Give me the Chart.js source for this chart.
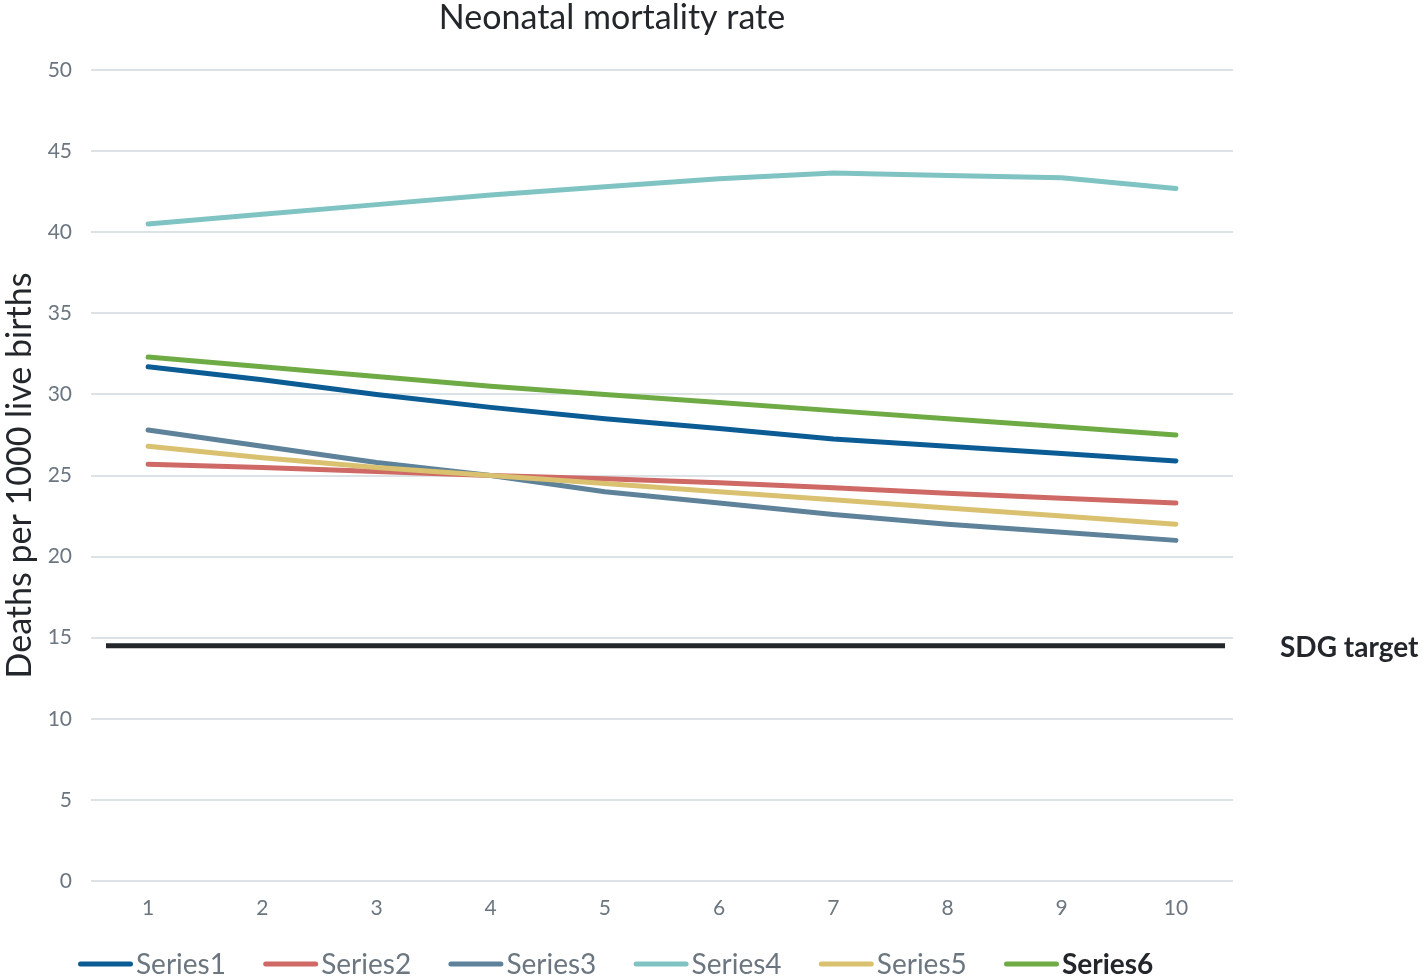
<!DOCTYPE html>
<html>
<head>
<meta charset="utf-8">
<title>Neonatal mortality rate</title>
<script src="https://cdn.jsdelivr.net/npm/chart.js@4/dist/chart.umd.min.js"></script>
<style>
  html, body { margin: 0; padding: 0; background: #ffffff; }
  #wrap { width: 1423px; height: 980px; }
</style>
</head>
<body>
<div id="wrap"><canvas id="chart" width="1423" height="980"></canvas></div>
<script>
// ---- data ----
const CATEGORIES = ['1', '2', '3', '4', '5', '6', '7', '8', '9', '10'];
const SERIES_NAMES = ['Series1', 'Series2', 'Series3', 'Series4', 'Series5', 'Series6'];
const SERIES1 = [31.7, 30.9, 30.0, 29.2, 28.5, 27.9, 27.25, 26.8, 26.35, 25.9];
const SERIES2 = [25.7, 25.5, 25.25, 25.0, 24.8, 24.55, 24.25, 23.9, 23.6, 23.3];
const SERIES3 = [27.8, 26.8, 25.8, 25.0, 24.0, 23.3, 22.6, 22.0, 21.5, 21.0];
const SERIES4 = [40.5, 41.1, 41.7, 42.3, 42.8, 43.3, 43.65, 43.5, 43.35, 42.7];
const SERIES5 = [26.8, 26.1, 25.5, 25.0, 24.5, 24.0, 23.5, 23.0, 22.5, 22.0];
const SERIES6 = [32.3, 31.7, 31.1, 30.5, 30.0, 29.5, 29.0, 28.5, 28.0, 27.5];
const SDG_TARGET = 14.5;
const SDG_LABEL = 'SDG target';
const Y_MIN = 0, Y_MAX = 50, Y_STEP = 5;
const CHART_TITLE = 'Neonatal mortality rate';
const Y_TITLE = 'Deaths per 1000 live births';

// ---- styling ----
const FONT = 'Lato, "Noto Sans", sans-serif';
const COLORS = ['#0b5c94', '#cf6966', '#5e8299', '#80c3c3', '#d9c170', '#6fab45'];
const TICK_COLOR = '#6b7680';
const DARK = '#23272b';
const GRID_COLOR = '#dde2e6';

const seriesValues = [SERIES1, SERIES2, SERIES3, SERIES4, SERIES5, SERIES6];

const datasets = seriesValues.map((values, i) => ({
  label: SERIES_NAMES[i],
  data: values,
  borderColor: COLORS[i],
  backgroundColor: COLORS[i],
  borderWidth: 5,
  borderCapStyle: 'round',
  borderJoinStyle: 'round',
  pointRadius: 0,
  pointHoverRadius: 0,
  tension: 0,
  fill: false,
  // later series are painted over earlier ones
  order: seriesValues.length - i
}));

// Chart title, drawn above the plot
const titlePlugin = {
  id: 'chartTitle',
  afterDraw(chart) {
    const ctx = chart.ctx;
    ctx.save();
    ctx.font = '34px ' + FONT;
    ctx.fillStyle = DARK;
    ctx.textAlign = 'center';
    ctx.textBaseline = 'middle';
    ctx.fillText(CHART_TITLE, 612, 18);
    ctx.restore();
  }
};

// Horizontal target line with its label at the right
const targetPlugin = {
  id: 'sdgTarget',
  afterDatasetsDraw(chart) {
    const { ctx, chartArea, scales } = chart;
    const y = scales.y.getPixelForValue(SDG_TARGET);
    ctx.save();
    ctx.strokeStyle = DARK;
    ctx.lineWidth = 5;
    ctx.lineCap = 'butt';
    ctx.beginPath();
    ctx.moveTo(chartArea.left + 15, y);
    ctx.lineTo(chartArea.right - 8, y);
    ctx.stroke();
    ctx.font = 'bold 28px ' + FONT;
    ctx.fillStyle = DARK;
    ctx.textAlign = 'left';
    ctx.textBaseline = 'middle';
    ctx.fillText(SDG_LABEL, chartArea.right + 47, y + 2);
    ctx.restore();
  }
};

// Legend row along the bottom edge
const legendPlugin = {
  id: 'bottomLegend',
  afterDraw(chart) {
    const ctx = chart.ctx;
    const sets = chart.data.datasets;
    const y = 964;
    const startX = 78, pitch = 185.2, sample = 55;
    ctx.save();
    sets.forEach((ds, i) => {
      const x = startX + i * pitch;
      ctx.strokeStyle = ds.borderColor;
      ctx.lineWidth = 5;
      ctx.lineCap = 'round';
      ctx.beginPath();
      ctx.moveTo(x + 2.5, y);
      ctx.lineTo(x + sample - 2.5, y);
      ctx.stroke();
      const last = i === sets.length - 1;
      ctx.font = (last ? 'bold ' : '') + '28px ' + FONT;
      ctx.fillStyle = last ? DARK : TICK_COLOR;
      ctx.textAlign = 'left';
      ctx.textBaseline = 'middle';
      ctx.fillText(ds.label, x + sample + 3, y + 1);
    });
    ctx.restore();
  }
};

new Chart(document.getElementById('chart'), {
  type: 'line',
  data: { labels: CATEGORIES, datasets },
  options: {
    responsive: false,
    animation: false,
    devicePixelRatio: 1,
    layout: { padding: { top: 70, right: 190, bottom: 49, left: 0 } },
    plugins: {
      legend: { display: false },
      title: { display: false },
      tooltip: { enabled: false }
    },
    scales: {
      x: {
        type: 'category',
        offset: true,
        grid: { display: false, drawTicks: false },
        border: { display: false },
        ticks: {
          color: TICK_COLOR,
          font: { family: FONT, size: 21 },
          padding: 15,
          maxRotation: 0,
          autoSkip: false
        },
        afterFit(scale) { scale.height = 50; }
      },
      y: {
        min: Y_MIN,
        max: Y_MAX,
        grid: { color: GRID_COLOR, lineWidth: 2, drawTicks: false },
        border: { display: false },
        ticks: {
          stepSize: Y_STEP,
          color: TICK_COLOR,
          font: { family: FONT, size: 21 },
          padding: 19
        },
        title: {
          display: true,
          text: Y_TITLE,
          color: DARK,
          font: { family: FONT, size: 34 },
          padding: 0
        },
        afterFit(scale) { scale.width = 91; }
      }
    }
  },
  plugins: [titlePlugin, targetPlugin, legendPlugin]
});
</script>
</body>
</html>
